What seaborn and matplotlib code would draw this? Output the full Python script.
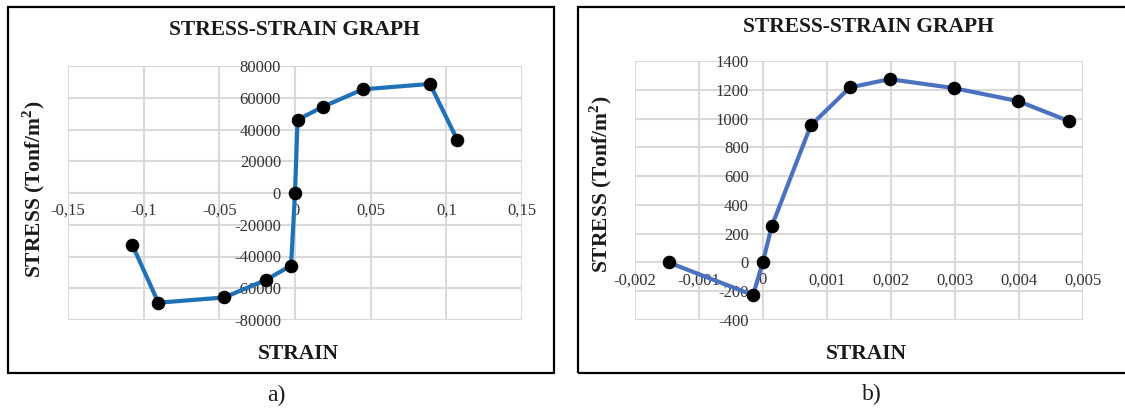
import matplotlib
matplotlib.use("Agg")
import matplotlib.pyplot as plt
import seaborn as sns
from matplotlib.patches import Rectangle

# ---------------- data ----------------
strain_a = [-0.1075, -0.0903, -0.0467, -0.0191, -0.0026, 0.0, 0.0017, 0.0182, 0.0448, 0.0892, 0.1073]
stress_a = [-32700, -69100, -65800, -54700, -45700, 0, 46100, 54200, 65300, 68700, 33300]

strain_b = [-0.00147, -0.00015, 0.0, 0.00014, 0.00075, 0.00136, 0.00198, 0.00298, 0.00399, 0.00478]
stress_b = [0, -227, 0, 250, 952, 1216, 1274, 1212, 1121, 982]

xticks_a = [-0.15, -0.1, -0.05, 0, 0.05, 0.1, 0.15]
xlabels_a = ["-0,15", "-0,1", "-0,05", "0", "0,05", "0,1", "0,15"]
yticks_a = [-80000, -60000, -40000, -20000, 0, 20000, 40000, 60000, 80000]
ylabels_a = ["-80000", "-60000", "-40000", "-20000", "0", "20000", "40000", "60000", "80000"]

xticks_b = [-0.002, -0.001, 0, 0.001, 0.002, 0.003, 0.004, 0.005]
xlabels_b = ["-0,002", "-0,001", "0", "0,001", "0,002", "0,003", "0,004", "0,005"]
yticks_b = [-400, -200, 0, 200, 400, 600, 800, 1000, 1200, 1400]
ylabels_b = ["-400", "-200", "0", "200", "400", "600", "800", "1000", "1200", "1400"]

title = "STRESS-STRAIN GRAPH"
xlab = "STRAIN"
ylab = "STRESS (Tonf/m$^\\mathregular{2}$)"

# ---------------- style ----------------
sns.set_theme(style="white")
plt.rcParams["font.family"] = ["Liberation Serif", "DejaVu Serif"]
plt.rcParams["mathtext.fontset"] = "custom"
plt.rcParams["mathtext.rm"] = "Liberation Serif:bold"

W, H = 1125, 408
fig = plt.figure(figsize=(W / 100, H / 100), dpi=100)
fig.patch.set_facecolor("white")

def fx(px):
    return px / W

def fy(py):
    return 1 - py / H

grid_col = "#d9d9d9"
tick_col = "#333333"

def setup(ax, xt, xl, yt, yl, color, sx, sy):
    sns.lineplot(x=sx, y=sy, sort=False, ax=ax, color=color, linewidth=3.0,
                 marker="o", markersize=9, markerfacecolor="black",
                 markeredgecolor="black", zorder=3)
    ax.set_xlim(xt[0], xt[-1])
    ax.set_ylim(yt[0], yt[-1])
    ax.set_xticks(xt)
    ax.set_xticklabels(xl)
    ax.set_yticks(yt)
    ax.set_yticklabels(yl)
    ax.grid(True, color=grid_col, linewidth=1.5)
    ax.set_axisbelow(True)
    for s in ["top", "right"]:
        ax.spines[s].set_visible(False)
    ax.spines["left"].set_position(("data", 0))
    ax.spines["bottom"].set_position(("data", 0))
    ax.spines["left"].set_visible(False)
    ax.spines["bottom"].set_visible(False)
    ax.tick_params(axis="both", length=0, labelsize=12, labelcolor=tick_col)
    ax.tick_params(axis="y", pad=10)
    ax.tick_params(axis="x", pad=7)
    ax.set_xlabel("")
    ax.set_ylabel("")
    ax.set_facecolor("white")

# panel a
ax_a = fig.add_axes([fx(68), fy(320), fx(522 - 68), (320 - 66) / H])
setup(ax_a, xticks_a, xlabels_a, yticks_a, ylabels_a, "#1f72b8", strain_a, stress_a)

# panel b
ax_b = fig.add_axes([fx(634.6), fy(320), fx(1083 - 634.6), (320 - 61) / H])
setup(ax_b, xticks_b, xlabels_b, yticks_b, ylabels_b, "#4a72c0", strain_b, stress_b)

# borders
fig.patches.append(Rectangle((fx(8), fy(373)), fx(554 - 8), (373 - 7) / H,
                             transform=fig.transFigure, fill=False,
                             edgecolor="black", linewidth=1.6, zorder=0))
fig.patches.append(Rectangle((fx(578), fy(373)), fx(1135 - 578), (373 - 7) / H,
                             transform=fig.transFigure, fill=False,
                             edgecolor="black", linewidth=1.6, zorder=0))

# texts
tkw = dict(fontsize=15.5, fontweight="bold", color="#1a1a1a", ha="center", va="center")
fig.text(fx(294), fy(30), title, **tkw)
fig.text(fx(868), fy(27), title, **tkw)
fig.text(fx(298), fy(354), xlab, **tkw)
fig.text(fx(866), fy(354), xlab, **tkw)
fig.text(fx(34), fy(189), ylab, rotation=90, **tkw)
fig.text(fx(601), fy(184), ylab, rotation=90, **tkw)

fig.text(fx(276), fy(395), "a)", fontsize=17, color="#1a1a1a", ha="center", va="center")
fig.text(fx(872), fy(394), "b)", fontsize=17, color="#1a1a1a", ha="center", va="center")

fig.savefig("out.png", dpi=100, facecolor="white")
